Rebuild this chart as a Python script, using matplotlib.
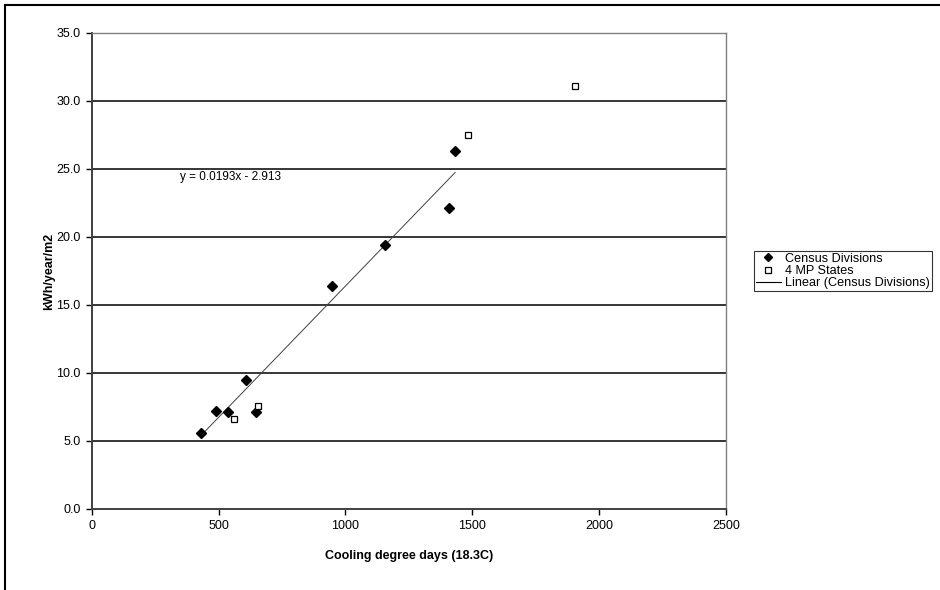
import matplotlib
matplotlib.use('Agg')
import matplotlib.pyplot as plt
from matplotlib.lines import Line2D
import numpy as np

plt.rcParams['font.family'] = ['Liberation Sans', 'DejaVu Sans']

# Census Divisions (filled diamonds)
census_cdd = [432, 491, 536, 610, 647, 946, 1157, 1409, 1433]
census_kwh = [5.6, 7.2, 7.1, 9.5, 7.1, 16.4, 19.4, 22.1, 26.3]

# 4 MP States (open squares)
mp_cdd = [561, 655, 1484, 1906]
mp_kwh = [6.6, 7.6, 27.5, 31.1]

# linear trend shown on chart
slope = 0.0193
intercept = -2.913

yticks = [0, 5, 10, 15, 20, 25, 30, 35]
xticks = [0, 500, 1000, 1500, 2000, 2500]

fig = plt.figure(figsize=(9.4, 5.9), dpi=100)
ax = fig.add_axes([0.0976, 0.1373, 0.6745, 0.8068])

for yv in yticks[1:]:
    ax.axhline(yv, color='black', lw=1.1, zorder=1)

xs = np.array([min(census_cdd), max(census_cdd)])
ax.plot(xs, slope * xs + intercept, color='#404040', lw=0.7, zorder=2)
ax.plot(census_cdd, census_kwh, 'D', color='black', ms=4.6, zorder=3)
ax.plot(mp_cdd, mp_kwh, 's', mfc='white', mec='black', mew=0.9, ms=4.3, zorder=3)

ax.text(348, 24.4, 'y = 0.0193x - 2.913', fontsize=8.5, va='center', ha='left')

ax.set_xlim(0, 2500)
ax.set_ylim(0, 35)
ax.set_xticks(xticks)
ax.set_yticks(yticks)
ax.set_yticklabels([f'{v:.1f}' for v in yticks])
ax.tick_params(direction='out', length=4, width=1, labelsize=9, colors='black', pad=4)

for side in ['left', 'bottom']:
    ax.spines[side].set_color('#404040')
    ax.spines[side].set_linewidth(1.4)
for side in ['right', 'top']:
    ax.spines[side].set_color('#808080')
    ax.spines[side].set_linewidth(1.0)

ax.set_xlabel('Cooling degree days (18.3C)', fontsize=9, fontweight='bold', labelpad=13)
ax.set_ylabel('kWh/year/m2', fontsize=9, fontweight='bold', labelpad=1)

handles = [
    Line2D([], [], marker='D', color='black', ls='none', ms=4),
    Line2D([], [], marker='s', mfc='white', mec='black', mew=0.9, ls='none', ms=4.3),
    Line2D([], [], color='black', lw=0.8),
]
labels = ['Census Divisions', '4 MP States', 'Linear (Census Divisions)']
leg = fig.legend(handles, labels, loc='upper left', bbox_to_anchor=(0.802, 0.5746),
                 fontsize=9.1, frameon=True, fancybox=False, edgecolor='black',
                 borderpad=0.15, handlelength=2.0, handletextpad=0.3, labelspacing=0.02,
                 borderaxespad=0)
leg.get_frame().set_linewidth(0.8)

# outer chart frame (top and left visible)
fig.add_artist(Line2D([5 / 940, 5 / 940], [0, 1 - 5 / 590], transform=fig.transFigure, color='black', lw=1.5))
fig.add_artist(Line2D([5 / 940, 1], [1 - 5 / 590, 1 - 5 / 590], transform=fig.transFigure, color='black', lw=1.5))

fig.savefig('out.png', dpi=100)
